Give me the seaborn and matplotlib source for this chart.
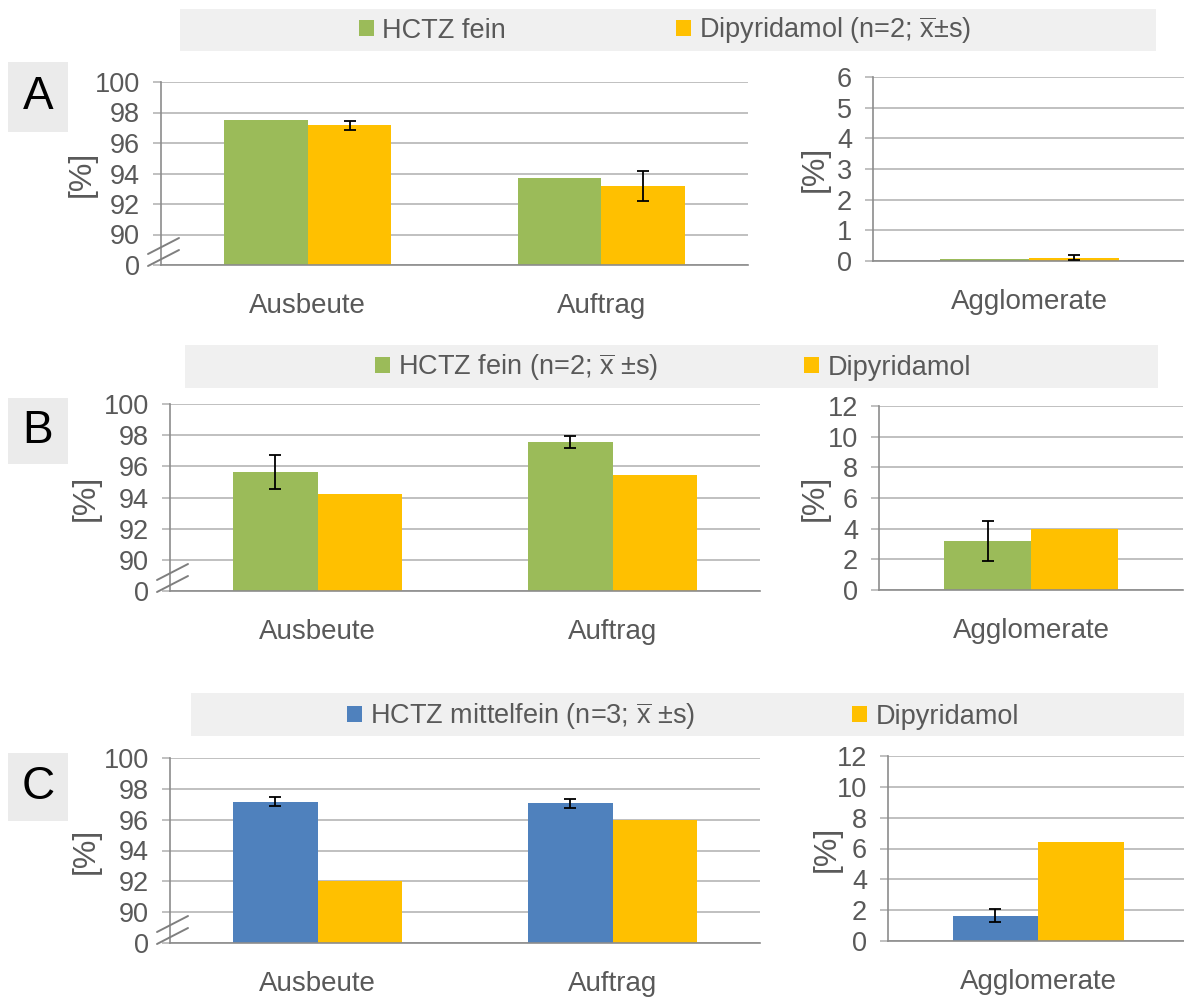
import numpy as np
import pandas as pd
import matplotlib
matplotlib.use('Agg')
import matplotlib.pyplot as plt
from matplotlib.patches import Rectangle, Patch
from matplotlib.lines import Line2D
import seaborn as sns

sns.set_style('white')
plt.rcParams['font.family'] = ['Liberation Sans', 'DejaVu Sans']
plt.rcParams['mathtext.fontset'] = 'custom'
plt.rcParams['mathtext.rm'] = 'Liberation Sans'

# Excel-like colours
c_green = '#9BBB59'
c_yellow = '#FFC000'
c_blue = '#4F81BD'
c_text = '#595959'
c_grid = '#B5B5B5'
c_axis = '#8C8C8C'
c_box = '#F0F0F0'

XBAR = r'$\mathrm{\overline{x}}$'

# ---- data ----
main_cats = ['Ausbeute', 'Auftrag']
agg_cats = ['Agglomerate']

# A
a_names = ['HCTZ fein', 'Dipyridamol (n=2; ' + XBAR + '±s)']
a_hctz = [97.5, 93.7]
a_hctz_sd = [0, 0]
a_dip = [97.15, 93.18]
a_dip_sd = [0.3, 0.98]
a_agg_hctz = [0.05]
a_agg_hctz_sd = [0]
a_agg_dip = [0.11]
a_agg_dip_sd = [0.08]

# B
b_names = ['HCTZ fein (n=2; ' + XBAR + ' ±s)', 'Dipyridamol']
b_hctz = [95.65, 97.57]
b_hctz_sd = [1.08, 0.4]
b_dip = [94.25, 95.47]
b_dip_sd = [0, 0]
b_agg_hctz = [3.2]
b_agg_hctz_sd = [1.3]
b_agg_dip = [4.0]
b_agg_dip_sd = [0]

# C
c_names = ['HCTZ mittelfein (n=3; ' + XBAR + ' ±s)', 'Dipyridamol']
c_hctz = [97.15, 97.05]
c_hctz_sd = [0.29, 0.3]
c_dip = [92.0, 95.97]
c_dip_sd = [0, 0]
c_agg_hctz = [1.65]
c_agg_hctz_sd = [0.42]
c_agg_dip = [6.4]
c_agg_dip_sd = [0]

W, H = 1184, 1001
fig = plt.figure(figsize=(W / 100, H / 100), dpi=100)


def px_rect(x0, y0, x1, y1):
    return [x0 / W, 1 - y1 / H, (x1 - x0) / W, (y1 - y0) / H]


def fwd(v):
    v = np.asarray(v, dtype=float)
    return np.where(v < 90, v / 90.0, (v - 88.0) / 2.0)


def inv(u):
    u = np.asarray(u, dtype=float)
    return np.where(u < 1, u * 90.0, u * 2.0 + 88.0)


def draw_panel(rect, cats, names, vals, sds, colors, ymax, ystep, broken, label_x):
    ax = fig.add_axes(px_rect(*rect))
    rows = []
    for name, v in zip(names, vals):
        for c, y in zip(cats, v):
            rows.append({'cat': c, 'series': name, 'val': y})
    df = pd.DataFrame(rows)
    sns.barplot(data=df, x='cat', y='val', hue='series', order=cats, hue_order=names,
                palette=dict(zip(names, colors)), width=0.57, saturation=1,
                errorbar=None, legend=False, ax=ax, zorder=2, linewidth=0, edgecolor='none')
    if broken:
        ax.set_yscale('function', functions=(fwd, inv))
    for cont, sd, v in zip(ax.containers, sds, vals):
        for bar, s, y in zip(cont, sd, v):
            if s:
                ax.errorbar(bar.get_x() + bar.get_width() / 2, y, yerr=s, fmt='none',
                            ecolor='black', elinewidth=1.3, capsize=4, capthick=1.3, zorder=3)
    if broken:
        ax.set_ylim(0, 100)
        ax.set_yticks([0, 90, 92, 94, 96, 98, 100])
    else:
        ax.set_ylim(0, ymax)
        ax.set_yticks(np.arange(0, ymax + ystep, ystep))
    ax.yaxis.set_major_formatter(matplotlib.ticker.FormatStrFormatter('%d'))
    ax.yaxis.set_minor_locator(matplotlib.ticker.NullLocator())
    ax.set_xlim(-0.5, len(cats) - 0.5)
    ax.set_xticks(range(len(cats)))
    ax.set_xticklabels(cats)
    ax.set_xticks(np.arange(-0.5, len(cats)), minor=True)
    ax.tick_params(axis='x', which='major', length=0, pad=20, labelsize=20, labelcolor=c_text)
    ax.tick_params(axis='x', which='minor', length=8, width=1.2, color=c_axis, direction='out')
    ax.tick_params(axis='y', length=6, width=1.2, color=c_grid, pad=9, labelsize=19.5,
                   labelcolor=c_text, direction='out', left=True)
    ax.yaxis.grid(True, color=c_grid, lw=1.2)
    ax.xaxis.grid(False)
    ax.set_axisbelow(True)
    for s in ['top', 'right']:
        ax.spines[s].set_visible(False)
    for s in ['left', 'bottom']:
        ax.spines[s].set_color(c_axis)
        ax.spines[s].set_linewidth(1.2)
    ax.set_xlabel('')
    ax.set_ylabel('[%]', fontsize=23, color=c_text)
    ax.yaxis.set_label_coords((label_x - rect[0]) / (rect[2] - rect[0]), 0.5)
    if broken:
        x0, yb = rect[0], rect[3]
        for dy in (-11, 1):
            fig.add_artist(Line2D([(x0 - 13) / W, (x0 + 18) / W],
                                  [1 - (yb + dy) / H, 1 - (yb + dy - 16) / H],
                                  color='#7F7F7F', lw=1.4))
    return ax


def legend_row(box, center, names, colors, spacing):
    x0, y0, x1, y1 = box
    fig.add_artist(Rectangle((x0 / W, 1 - y1 / H), (x1 - x0) / W, (y1 - y0) / H,
                             transform=fig.transFigure, facecolor=c_box, edgecolor='none', zorder=0))
    handles = [Patch(facecolor=c, edgecolor='none') for c in colors]
    fig.legend(handles, names, loc='center', bbox_to_anchor=(center[0] / W, 1 - center[1] / H),
               ncol=2, frameon=False, fontsize=19.5, handlelength=0.55, handleheight=0.55,
               handletextpad=0.3, columnspacing=spacing, labelcolor=c_text)


def panel_letter(box, letter):
    x0, y0, x1, y1 = box
    fig.add_artist(Rectangle((x0 / W, 1 - y1 / H), (x1 - x0) / W, (y1 - y0) / H,
                             transform=fig.transFigure, facecolor='#EBEBEB', edgecolor='none', zorder=0))
    fig.text((x0 + x1) / 2 / W, 1 - (y0 + y1) / 2 / H, letter, fontsize=33,
             ha='center', va='center', color='black')


# Row A
draw_panel((161, 82, 748, 265), main_cats, a_names, [a_hctz, a_dip], [a_hctz_sd, a_dip_sd],
           [c_green, c_yellow], 100, 2, True, 97)
draw_panel((873, 77, 1186, 261), agg_cats, a_names, [a_agg_hctz, a_agg_dip],
           [a_agg_hctz_sd, a_agg_dip_sd], [c_green, c_yellow], 6, 1, False, 830)
legend_row((180, 9, 1156, 51), (665, 30), a_names, [c_green, c_yellow], 6.3)
panel_letter((8, 62, 68, 132), 'A')

# Row B
draw_panel((170, 404, 760, 591), main_cats, b_names, [b_hctz, b_dip], [b_hctz_sd, b_dip_sd],
           [c_green, c_yellow], 100, 2, True, 101)
draw_panel((879, 406, 1183, 590), agg_cats, b_names, [b_agg_hctz, b_agg_dip],
           [b_agg_hctz_sd, b_agg_dip_sd], [c_green, c_yellow], 12, 2, False, 830)
legend_row((185, 345, 1158, 388), (673, 367), b_names, [c_green, c_yellow], 5.4)
panel_letter((8, 398, 68, 464), 'B')

# Row C
draw_panel((170, 758, 760, 943), main_cats, c_names, [c_hctz, c_dip], [c_hctz_sd, c_dip_sd],
           [c_blue, c_yellow], 100, 2, True, 101)
draw_panel((888, 756, 1188, 941), agg_cats, c_names, [c_agg_hctz, c_agg_dip],
           [c_agg_hctz_sd, c_agg_dip_sd], [c_blue, c_yellow], 12, 2, False, 842)
legend_row((191, 693, 1184, 736), (683, 716), c_names, [c_blue, c_yellow], 5.8)
panel_letter((8, 753, 68, 821), 'C')

fig.savefig('out.png', dpi=100)
